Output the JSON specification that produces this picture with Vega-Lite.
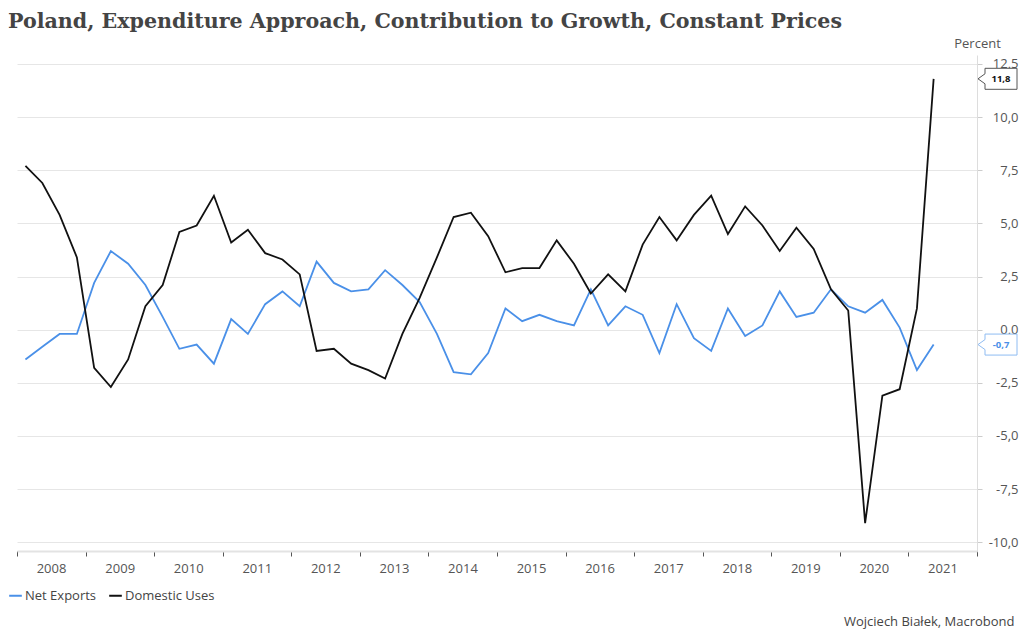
{
  "$schema": "https://vega.github.io/schema/vega-lite/v6.json",
  "width": 960,
  "height": 496,
  "autosize": "none",
  "padding": {"left": 17, "top": 55, "right": 47, "bottom": 89},
  "background": "white",
  "config": {
    "view": {"stroke": null},
    "locale": {"number": {"decimal": ",", "thousands": ".", "grouping": [3], "currency": ["", ""], "minus": "-"}},
    "font": "Open Sans"
  },
  "title": {
    "text": "Poland, Expenditure Approach, Contribution to Growth, Constant Prices",
    "anchor": "start",
    "frame": "group",
    "font": "DejaVu Serif",
    "fontWeight": "bold",
    "fontSize": 20.6,
    "color": "#444444",
    "dx": -9,
    "offset": 4
  },
  "data": {
    "values": [
      {"q": "2008-02-15", "Net Exports": -1.4, "Domestic Uses": 7.7},
      {"q": "2008-05-15", "Net Exports": -0.8, "Domestic Uses": 6.9},
      {"q": "2008-08-15", "Net Exports": -0.2, "Domestic Uses": 5.4},
      {"q": "2008-11-15", "Net Exports": -0.2, "Domestic Uses": 3.4},
      {"q": "2009-02-15", "Net Exports": 2.2, "Domestic Uses": -1.8},
      {"q": "2009-05-15", "Net Exports": 3.7, "Domestic Uses": -2.7},
      {"q": "2009-08-15", "Net Exports": 3.1, "Domestic Uses": -1.4},
      {"q": "2009-11-15", "Net Exports": 2.1, "Domestic Uses": 1.1},
      {"q": "2010-02-15", "Net Exports": 0.6, "Domestic Uses": 2.1},
      {"q": "2010-05-15", "Net Exports": -0.9, "Domestic Uses": 4.6},
      {"q": "2010-08-15", "Net Exports": -0.7, "Domestic Uses": 4.9},
      {"q": "2010-11-15", "Net Exports": -1.6, "Domestic Uses": 6.3},
      {"q": "2011-02-15", "Net Exports": 0.5, "Domestic Uses": 4.1},
      {"q": "2011-05-15", "Net Exports": -0.2, "Domestic Uses": 4.7},
      {"q": "2011-08-15", "Net Exports": 1.2, "Domestic Uses": 3.6},
      {"q": "2011-11-15", "Net Exports": 1.8, "Domestic Uses": 3.3},
      {"q": "2012-02-15", "Net Exports": 1.1, "Domestic Uses": 2.6},
      {"q": "2012-05-15", "Net Exports": 3.2, "Domestic Uses": -1.0},
      {"q": "2012-08-15", "Net Exports": 2.2, "Domestic Uses": -0.9},
      {"q": "2012-11-15", "Net Exports": 1.8, "Domestic Uses": -1.6},
      {"q": "2013-02-15", "Net Exports": 1.9, "Domestic Uses": -1.9},
      {"q": "2013-05-15", "Net Exports": 2.8, "Domestic Uses": -2.3},
      {"q": "2013-08-15", "Net Exports": 2.1, "Domestic Uses": -0.2},
      {"q": "2013-11-15", "Net Exports": 1.3, "Domestic Uses": 1.5},
      {"q": "2014-02-15", "Net Exports": -0.2, "Domestic Uses": 3.4},
      {"q": "2014-05-15", "Net Exports": -2.0, "Domestic Uses": 5.3},
      {"q": "2014-08-15", "Net Exports": -2.1, "Domestic Uses": 5.5},
      {"q": "2014-11-15", "Net Exports": -1.1, "Domestic Uses": 4.4},
      {"q": "2015-02-15", "Net Exports": 1.0, "Domestic Uses": 2.7},
      {"q": "2015-05-15", "Net Exports": 0.4, "Domestic Uses": 2.9},
      {"q": "2015-08-15", "Net Exports": 0.7, "Domestic Uses": 2.9},
      {"q": "2015-11-15", "Net Exports": 0.4, "Domestic Uses": 4.2},
      {"q": "2016-02-15", "Net Exports": 0.2, "Domestic Uses": 3.1},
      {"q": "2016-05-15", "Net Exports": 1.9, "Domestic Uses": 1.7},
      {"q": "2016-08-15", "Net Exports": 0.2, "Domestic Uses": 2.6},
      {"q": "2016-11-15", "Net Exports": 1.1, "Domestic Uses": 1.8},
      {"q": "2017-02-15", "Net Exports": 0.7, "Domestic Uses": 4.0},
      {"q": "2017-05-15", "Net Exports": -1.1, "Domestic Uses": 5.3},
      {"q": "2017-08-15", "Net Exports": 1.2, "Domestic Uses": 4.2},
      {"q": "2017-11-15", "Net Exports": -0.4, "Domestic Uses": 5.4},
      {"q": "2018-02-15", "Net Exports": -1.0, "Domestic Uses": 6.3},
      {"q": "2018-05-15", "Net Exports": 1.0, "Domestic Uses": 4.5},
      {"q": "2018-08-15", "Net Exports": -0.3, "Domestic Uses": 5.8},
      {"q": "2018-11-15", "Net Exports": 0.2, "Domestic Uses": 4.9},
      {"q": "2019-02-15", "Net Exports": 1.8, "Domestic Uses": 3.7},
      {"q": "2019-05-15", "Net Exports": 0.6, "Domestic Uses": 4.8},
      {"q": "2019-08-15", "Net Exports": 0.8, "Domestic Uses": 3.8},
      {"q": "2019-11-15", "Net Exports": 1.9, "Domestic Uses": 1.9},
      {"q": "2020-02-15", "Net Exports": 1.1, "Domestic Uses": 0.9},
      {"q": "2020-05-15", "Net Exports": 0.8, "Domestic Uses": -9.1},
      {"q": "2020-08-15", "Net Exports": 1.4, "Domestic Uses": -3.1},
      {"q": "2020-11-15", "Net Exports": 0.1, "Domestic Uses": -2.8},
      {"q": "2021-02-15", "Net Exports": -1.9, "Domestic Uses": 1.0},
      {"q": "2021-05-15", "Net Exports": -0.7, "Domestic Uses": 11.8}
    ]
  },
  "transform": [
    {"fold": ["Net Exports", "Domestic Uses"], "as": ["series", "value"]}
  ],
  "layer": [
    {
      "mark": {"type": "line", "strokeWidth": 1.8, "clip": false},
      "encoding": {
        "x": {
          "field": "q",
          "type": "temporal",
          "scale": {"type": "utc", "nice": false, "domain": [{"year": 2008, "month": 1, "date": 1, "utc": true}, {"year": 2022, "month": 1, "date": 1, "utc": true}]},
          "axis": {
            "orient": "bottom",
            "tickCount": {"interval": "year", "step": 1},
            "labelExpr": "utcyear(datum.value) > 2021 ? '' : utcFormat(datum.value, '%Y')",
            "labelOffset": 34,
            "labelAlign": "center",
            "labelFontSize": 13,
            "labelColor": "#555555",
            "labelPadding": 6,
            "labelFlush": false,
            "labelOverlap": false,
            "grid": false,
            "domainColor": "#e3e3e3",
            "domainWidth": 2,
            "tickColor": "#555555",
            "tickSize": 5,
            "title": "Wojciech Białek, Macrobond",
            "titleX": 997,
            "titleY": 70,
            "titleAlign": "right",
            "titleBaseline": "middle",
            "titleFontWeight": "normal",
            "titleFontSize": 13,
            "titleColor": "#444444",
            "titleFont": "Open Sans"
          }
        },
        "y": {
          "field": "value",
          "type": "quantitative",
          "scale": {"domain": [-10.41, 12.92], "nice": false, "zero": false},
          "axis": {
            "orient": "right",
            "values": [-10, -7.5, -5, -2.5, 0, 2.5, 5, 7.5, 10, 12.5],
            "format": ".1f",
            "labelAlign": "right",
            "labelPadding": 36,
            "labelFontSize": 13,
            "labelColor": "#555555",
            "tickSize": 5,
            "tickColor": "#cccccc",
            "domainColor": "#dddddd",
            "gridColor": "#e6e6e6",
            "title": "Percent",
            "titleAngle": 0,
            "titleX": 0,
            "titleY": -12,
            "titleAlign": "center",
            "titleBaseline": "middle",
            "titleFontWeight": "normal",
            "titleFontSize": 13,
            "titleColor": "#555555",
            "titleFont": "Open Sans"
          }
        },
        "color": {
          "field": "series",
          "type": "nominal",
          "scale": {"domain": ["Net Exports", "Domestic Uses"], "range": ["#4a90e8", "#111111"]},
          "legend": {
            "orient": "none",
            "legendX": -9,
            "legendY": 533,
            "direction": "horizontal",
            "title": null,
            "symbolType": "stroke",
            "symbolStrokeWidth": 2,
            "symbolSize": 160,
            "labelFontSize": 13,
            "labelColor": "#444444",
            "labelFont": "Open Sans",
            "labelOffset": 2,
            "columnPadding": 8
          }
        }
      }
    },
    {
      "transform": [{"filter": "utcyear(datum.q) == 2021 && utcmonth(datum.q) == 4"}],
      "mark": {"type": "point", "shape": "M1,0L8,-5L8,-10.5L40,-10.5L40,10.5L8,10.5L8,5Z", "size": 4, "filled": true, "fill": "white", "fillOpacity": 1, "opacity": 1, "strokeWidth": 1, "clip": false},
      "encoding": {
        "x": {"datum": {"year": 2022, "month": 1, "date": 1, "utc": true}, "type": "temporal"},
        "y": {"field": "value", "type": "quantitative"},
        "stroke": {
          "field": "series",
          "type": "nominal",
          "scale": {"domain": ["Net Exports", "Domestic Uses"], "range": ["#8fbcf2", "#555555"]},
          "legend": null
        }
      }
    },
    {
      "transform": [{"filter": "utcyear(datum.q) == 2021 && utcmonth(datum.q) == 4"}],
      "mark": {"type": "text", "dx": 24, "fontSize": 9.5, "fontWeight": "bold", "align": "center", "baseline": "middle", "font": "Open Sans"},
      "encoding": {
        "x": {"datum": {"year": 2022, "month": 1, "date": 1, "utc": true}, "type": "temporal"},
        "y": {"field": "value", "type": "quantitative"},
        "text": {"field": "value", "type": "quantitative", "format": ".1f"},
        "fill": {
          "field": "series",
          "type": "nominal",
          "scale": {"domain": ["Net Exports", "Domestic Uses"], "range": ["#4a90e8", "#111111"]},
          "legend": null
        }
      }
    }
  ]
}
